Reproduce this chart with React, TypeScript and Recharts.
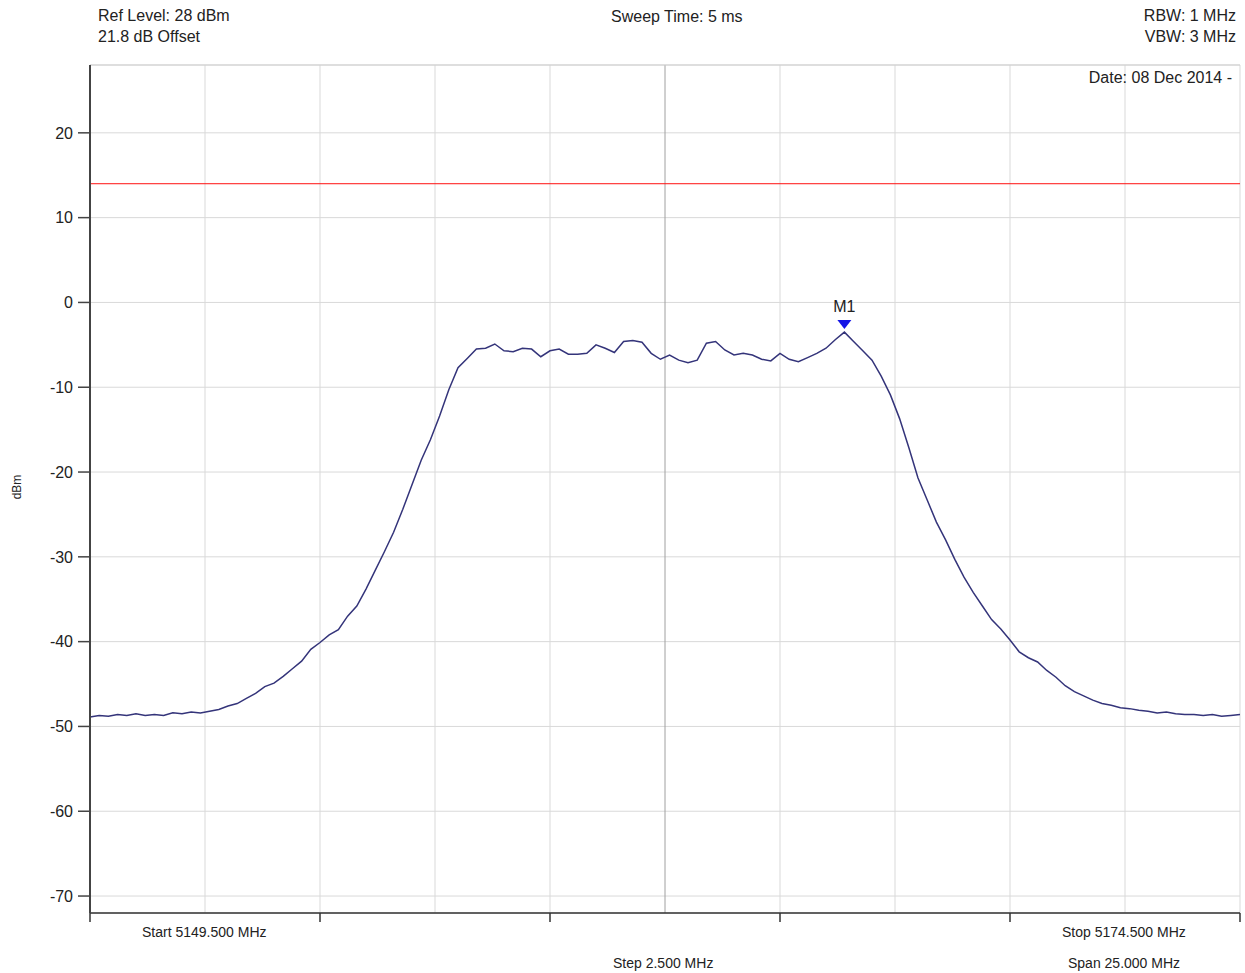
import React from "react";
import {
  LineChart,
  Line,
  XAxis,
  YAxis,
  CartesianGrid,
  ReferenceLine,
  ReferenceDot,
} from "recharts";

// sweep settings
const START_MHZ = 5149.5;
const STEP_MHZ = 0.2;

// trace levels (dBm), one per sweep point
const LEVELS = [
  -48.9, -48.7, -48.8, -48.6, -48.7, -48.5, -48.7, -48.6, -48.7, -48.4,
  -48.5, -48.3, -48.4, -48.2, -48.0, -47.6, -47.3, -46.7, -46.1, -45.3,
  -44.9, -44.1, -43.2, -42.3, -40.9, -40.1, -39.2, -38.6, -37.0, -35.8,
  -33.8, -31.6, -29.4, -27.1, -24.4, -21.5, -18.6, -16.2, -13.4, -10.3,
  -7.7, -6.6, -5.5, -5.4, -4.9, -5.7, -5.8, -5.4, -5.5, -6.4,
  -5.7, -5.5, -6.1, -6.1, -6.0, -5.0, -5.4, -5.9, -4.6, -4.5,
  -4.7, -6.0, -6.7, -6.2, -6.8, -7.1, -6.8, -4.8, -4.6, -5.6,
  -6.2, -6.0, -6.2, -6.7, -6.9, -6.0, -6.7, -7.0, -6.5, -6.0,
  -5.4, -4.4, -3.5, -4.6, -5.7, -6.8, -8.7, -10.9, -13.7, -17.1,
  -20.7, -23.3, -25.9, -28.0, -30.3, -32.4, -34.2, -35.8, -37.4, -38.5,
  -39.8, -41.2, -41.9, -42.4, -43.4, -44.2, -45.2, -45.9, -46.4, -46.9,
  -47.3, -47.5, -47.8, -47.9, -48.1, -48.2, -48.4, -48.3, -48.5, -48.6,
  -48.6, -48.7, -48.6, -48.8, -48.7, -48.6,
];

const LIMIT_DBM = 14;
const MARKER_F = 5165.9;
const MARKER_DBM = -3.5;

const GRID_X = [5152, 5154.5, 5157, 5159.5, 5164.5, 5167, 5169.5, 5172, 5174.5];
const CENTER_X = 5162;
const MAJOR_X = [5149.5, 5154.5, 5159.5, 5164.5, 5169.5, 5174.5];
const Y_TICKS = [-70, -60, -50, -40, -30, -20, -10, 0, 10, 20];

const trace = LEVELS.map((dbm, i) => ({
  f: +(START_MHZ + i * STEP_MHZ).toFixed(2),
  dbm,
}));

const FONT = "'Liberation Sans', Arial, sans-serif";

const txt = (left: number, top: number, s: string, extra: React.CSSProperties = {}) => (
  <div
    style={{
      position: "absolute",
      left,
      top,
      fontSize: 16,
      color: "#222",
      whiteSpace: "nowrap",
      lineHeight: "20px",
      ...extra,
    }}
  >
    {s}
  </div>
);

const Marker = (props: any) => {
  const { cx, cy } = props;
  return (
    <g>
      <polygon
        points={`${cx - 7},${cy - 12} ${cx + 7},${cy - 12} ${cx},${cy - 3}`}
        fill="#1414e6"
      />
      <text x={cx} y={cy - 20} textAnchor="middle" fontSize={16} fill="#222" fontFamily={FONT}>
        M1
      </text>
    </g>
  );
};

export default function App() {
  return (
    <div
      style={{
        position: "absolute",
        left: 0,
        top: 0,
        width: 1245,
        height: 973,
        background: "#fff",
        fontFamily: FONT,
      }}
    >
      <LineChart
        width={1245}
        height={973}
        data={trace}
        margin={{ top: 65, right: 5, bottom: 30, left: 0 }}
      >
        <CartesianGrid vertical={false} stroke="#d9d9d9" />
        {GRID_X.map((v) => (
          <ReferenceLine key={v} x={v} stroke="#d9d9d9" />
        ))}
        <ReferenceLine x={CENTER_X} stroke="#a0a0a0" />
        <ReferenceLine y={28} stroke="#d0d0d0" />
        <XAxis
          type="number"
          dataKey="f"
          domain={[5149.5, 5174.5]}
          ticks={MAJOR_X}
          tickFormatter={() => ""}
          tickSize={9}
          height={30}
          interval={0}
          axisLine={{ stroke: "#333", strokeWidth: 1.5 }}
          tickLine={{ stroke: "#333", strokeWidth: 1.5 }}
        />
        <YAxis
          type="number"
          domain={[-72, 28]}
          ticks={Y_TICKS}
          width={90}
          tickSize={12}
          tickMargin={5}
          interval={0}
          allowDataOverflow
          axisLine={{ stroke: "#444", strokeWidth: 2 }}
          tickLine={{ stroke: "#444", strokeWidth: 1.5 }}
          tick={{ fill: "#222", fontSize: 16, fontFamily: FONT }}
        />
        <ReferenceLine y={LIMIT_DBM} stroke="#ff1010" strokeWidth={1} />
        <Line
          type="linear"
          dataKey="dbm"
          stroke="#34347a"
          strokeWidth={1.5}
          dot={false}
          isAnimationActive={false}
        />
        <ReferenceDot x={MARKER_F} y={MARKER_DBM} shape={Marker} />
      </LineChart>

      {txt(98, 6, "Ref Level: 28 dBm")}
      {txt(98, 27, "21.8 dB Offset")}
      {txt(611, 7, "Sweep Time: 5 ms")}
      {txt(1000, 6, "RBW: 1 MHz", { width: 236, textAlign: "right" })}
      {txt(1000, 27, "VBW: 3 MHz", { width: 236, textAlign: "right" })}
      {txt(1000, 68, "Date: 08 Dec 2014 -", { width: 232, textAlign: "right" })}
      {txt(142, 922, "Start 5149.500 MHz", { fontSize: 14 })}
      {txt(1062, 922, "Stop 5174.500 MHz", { fontSize: 14 })}
      {txt(613, 953, "Step 2.500 MHz", { fontSize: 14 })}
      {txt(1068, 953, "Span 25.000 MHz", { fontSize: 14 })}
      <div
        style={{
          position: "absolute",
          left: 17,
          top: 487,
          fontSize: 12,
          color: "#222",
          transform: "translate(-50%, -50%) rotate(-90deg)",
          whiteSpace: "nowrap",
        }}
      >
        dBm
      </div>
    </div>
  );
}
